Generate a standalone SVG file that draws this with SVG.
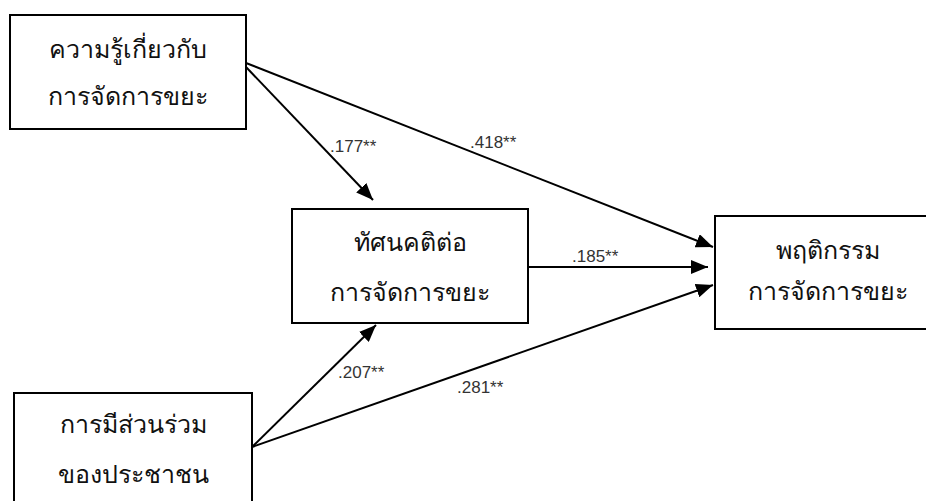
<svg xmlns="http://www.w3.org/2000/svg" width="926" height="501" viewBox="0 0 926 501">
<defs>
<style>
.box{fill:#fff;stroke:#000;stroke-width:2}
.t{font-family:"Noto Sans",sans-serif;font-size:25px;font-weight:300;fill:#111;text-anchor:middle}
.l{font-family:"Liberation Sans",Arial,sans-serif;font-size:17px;fill:#333}
.c{stroke:#000;stroke-width:2;fill:none;marker-end:url(#ah)}
</style>
<marker id="ah" markerUnits="userSpaceOnUse" markerWidth="18" markerHeight="14" refX="17" refY="7" orient="auto">
<path d="M0,0 L17,7 L0,14 z" fill="#000"/>
</marker>
</defs>
<rect width="926" height="501" fill="#fff"/>
<g id="connectors">
<line class="c" x1="246" y1="63" x2="713" y2="247"/>
<line class="c" x1="246" y1="67" x2="373" y2="200"/>
<line class="c" x1="528" y1="267" x2="708" y2="267"/>
<line class="c" x1="252" y1="447" x2="376" y2="325"/>
<line class="c" x1="252" y1="447" x2="713" y2="285"/>
<text class="l" x="330" y="152">.177**</text>
<text class="l" x="470" y="148">.418**</text>
<text class="l" x="572" y="262">.185**</text>
<text class="l" x="338" y="378">.207**</text>
<text class="l" x="457" y="393">.281**</text>
</g>
<g id="knowledge">
<rect class="box" x="10" y="15" width="236" height="114"/>
<text class="t" x="128" y="58">ความรู้เกี่ยวกับ</text>
<text class="t" x="128" y="105">การจัดการขยะ</text>
</g>
<g id="attitude">
<rect class="box" x="292" y="209" width="236" height="114"/>
<text class="t" x="410" y="251">ทัศนคติต่อ</text>
<text class="t" x="410" y="301">การจัดการขยะ</text>
</g>
<g id="behavior">
<rect class="box" x="715" y="216" width="226" height="113"/>
<text class="t" x="828" y="259">พฤติกรรม</text>
<text class="t" x="828" y="300">การจัดการขยะ</text>
</g>
<g id="participation">
<rect class="box" x="14" y="393" width="238" height="114"/>
<text class="t" x="133" y="433">การมีส่วนร่วม</text>
<text class="t" x="133" y="483">ของประชาชน</text>
</g>
</svg>
